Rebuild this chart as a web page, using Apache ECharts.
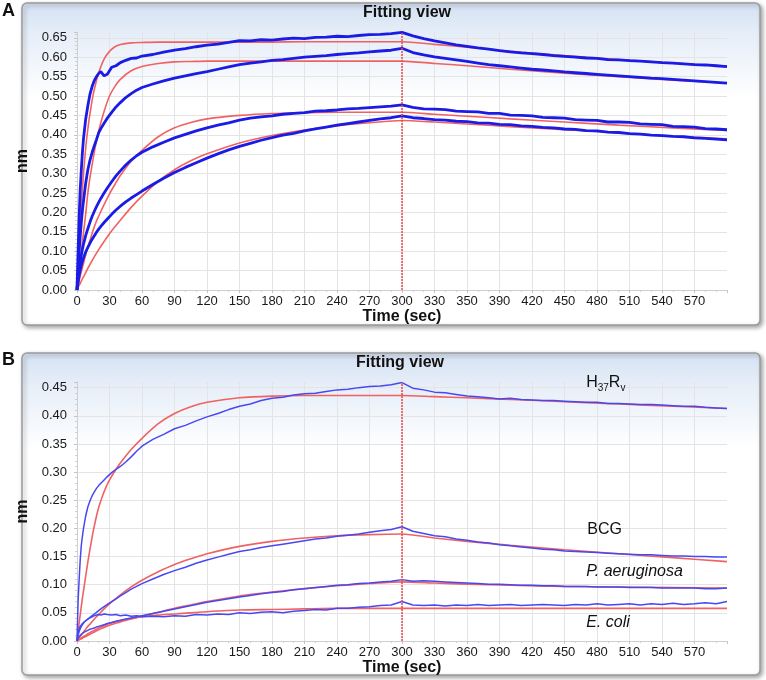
<!DOCTYPE html>
<html><head><meta charset="utf-8">
<script src="https://cdn.jsdelivr.net/npm/echarts@6/dist/echarts.min.js"></script>
<style>html,body{margin:0;padding:0;background:#fff}#c{width:766px;height:680px}</style>
</head><body><div id="c"></div>
<script>
// ---------------- DATA ----------------
const xTickLabelsA = ['0','30','60','90','120','150','180','210','240','270','300','330','350','390','420','450','480','510','540','570'];
const xTickLabelsB = ['0','30','60','90','120','150','180','210','240','270','300','330','360','390','420','450','480','510','540','570'];
const yTickLabelsA = ['0.00','0.05','0.10','0.15','0.20','0.25','0.30','0.35','0.40','0.45','0.50','0.55','0.60','0.65'];
const yTickLabelsB = ['0.00','0.05','0.10','0.15','0.20','0.25','0.30','0.35','0.40','0.45'];

// time points (sec) of measured (blue) traces
const tBlue = [0,1,2,3,4,5,6,8,10,12,14,16,18,20,22,25,28,32,36,40,45,50,55,
  60,70,80,90,100,110,120,130,140,150,160,170,180,190,200,210,220,230,240,250,260,270,280,290,300,
  310,320,330,340,350,360,370,380,390,400,410,420,430,440,450,460,470,480,490,500,510,520,530,540,550,560,570,580,590,600];
// time points (sec) of fitted (red) curves
const tFit = [0,1,2,3,4,5,6,8,10,12,15,18,20,25,30,35,40,50,60,75,90,105,120,150,180,210,240,270,300,330,360,400,450,500,550,600];

// Panel A – measured
const a1Blue = [0,0.10,0.19,0.26,0.31,0.355,0.39,0.44,0.475,0.505,0.525,0.54,0.55,0.558,0.563,0.552,0.556,0.574,0.578,0.586,0.592,0.597,0.598,
  0.603,0.607,0.613,0.618,0.622,0.627,0.631,0.634,0.638,0.643,0.642,0.645,0.644,0.647,0.649,0.648,0.651,0.652,0.654,0.653,0.656,0.658,0.659,0.661,0.664,
  0.655,0.648,0.642,0.637,0.632,0.628,0.624,0.621,0.617,0.614,0.611,0.609,0.607,0.604,0.602,0.600,0.598,0.597,0.594,0.593,0.591,0.590,0.588,0.586,0.585,0.583,0.581,0.580,0.578,0.576];
const a2Blue = [0,0.05,0.10,0.14,0.175,0.205,0.23,0.275,0.31,0.335,0.355,0.372,0.388,0.405,0.416,0.43,0.443,0.458,0.472,0.483,0.496,0.506,0.515,
  0.522,0.531,0.539,0.546,0.552,0.558,0.563,0.569,0.575,0.581,0.585,0.588,0.592,0.594,0.597,0.600,0.602,0.604,0.607,0.609,0.611,0.614,0.616,0.618,0.623,
  0.612,0.606,0.601,0.597,0.593,0.589,0.585,0.581,0.578,0.575,0.572,0.569,0.567,0.565,0.562,0.560,0.558,0.556,0.554,0.552,0.550,0.548,0.546,0.545,0.543,0.541,0.539,0.537,0.535,0.533];
const a3Blue = [0,0.03,0.055,0.075,0.09,0.105,0.118,0.14,0.158,0.175,0.19,0.203,0.215,0.226,0.236,0.25,0.263,0.279,0.294,0.307,0.322,0.335,0.346,
  0.355,0.369,0.381,0.392,0.401,0.41,0.418,0.425,0.431,0.438,0.443,0.446,0.449,0.453,0.455,0.457,0.461,0.462,0.464,0.467,0.468,0.47,0.472,0.474,0.477,
  0.471,0.467,0.466,0.465,0.461,0.46,0.459,0.455,0.455,0.451,0.45,0.449,0.445,0.444,0.443,0.439,0.438,0.437,0.433,0.433,0.432,0.428,0.427,0.426,0.422,0.421,0.42,0.416,0.415,0.413];
const a4Blue = [0,0.02,0.038,0.052,0.064,0.074,0.083,0.098,0.11,0.121,0.131,0.14,0.149,0.157,0.164,0.174,0.183,0.195,0.206,0.216,0.227,0.237,0.246,
  0.255,0.272,0.288,0.303,0.316,0.328,0.34,0.351,0.361,0.37,0.378,0.386,0.393,0.399,0.404,0.41,0.415,0.42,0.425,0.429,0.433,0.437,0.441,0.444,0.449,
  0.444,0.442,0.439,0.438,0.435,0.434,0.431,0.43,0.427,0.426,0.423,0.422,0.419,0.418,0.415,0.414,0.411,0.41,0.407,0.406,0.403,0.402,0.399,0.398,0.396,0.395,0.392,0.391,0.389,0.387];
// Panel A – fits
const a1Fit = [0,0.065,0.125,0.175,0.22,0.26,0.3,0.365,0.415,0.455,0.505,0.54,0.56,0.595,0.615,0.627,0.633,0.637,0.638,0.639,0.639,0.639,0.639,0.639,0.639,0.64,0.64,0.64,0.64,0.633,0.626,0.615,0.604,0.594,0.585,0.577];
const a2Fit = [0,0.025,0.05,0.075,0.1,0.125,0.148,0.195,0.25,0.29,0.34,0.385,0.41,0.46,0.5,0.525,0.543,0.565,0.576,0.584,0.588,0.589,0.59,0.59,0.59,0.59,0.59,0.59,0.59,0.584,0.578,0.569,0.559,0.55,0.541,0.533];
const a3Fit = [0,0.012,0.024,0.036,0.047,0.058,0.069,0.09,0.11,0.128,0.155,0.178,0.19,0.22,0.248,0.272,0.295,0.332,0.36,0.395,0.418,0.432,0.441,0.45,0.455,0.457,0.458,0.458,0.458,0.453,0.448,0.441,0.433,0.425,0.418,0.411];
const a4Fit = [0,0.006,0.012,0.017,0.023,0.029,0.034,0.045,0.056,0.066,0.081,0.095,0.104,0.125,0.145,0.163,0.18,0.213,0.242,0.28,0.31,0.333,0.351,0.379,0.398,0.412,0.423,0.431,0.437,0.433,0.428,0.421,0.413,0.405,0.397,0.39];

// Panel B – measured
const h37Blue = [0,0.07,0.11,0.145,0.17,0.186,0.2,0.222,0.238,0.249,0.258,0.265,0.271,0.276,0.28,0.286,0.292,0.299,0.305,0.31,0.318,0.327,0.337,
  0.346,0.358,0.367,0.377,0.383,0.391,0.398,0.404,0.411,0.417,0.421,0.427,0.431,0.433,0.437,0.439,0.44,0.443,0.446,0.447,0.45,0.452,0.453,0.455,0.459,
  0.449,0.446,0.442,0.441,0.438,0.435,0.434,0.432,0.43,0.431,0.429,0.428,0.427,0.427,0.426,0.425,0.424,0.424,0.422,0.422,0.421,0.42,0.42,0.419,0.418,0.417,0.417,0.415,0.414,0.413];
const bcgBlue = [0,0.015,0.022,0.026,0.029,0.031,0.033,0.036,0.039,0.042,0.045,0.048,0.051,0.054,0.057,0.061,0.065,0.07,0.075,0.08,0.086,0.092,0.097,
  0.102,0.11,0.118,0.125,0.131,0.138,0.144,0.149,0.154,0.159,0.162,0.166,0.169,0.172,0.175,0.178,0.181,0.183,0.186,0.188,0.19,0.193,0.196,0.198,0.203,
  0.195,0.191,0.187,0.185,0.181,0.179,0.176,0.174,0.171,0.169,0.167,0.165,0.163,0.162,0.16,0.159,0.158,0.157,0.156,0.155,0.154,0.153,0.153,0.152,0.151,0.151,0.15,0.15,0.149,0.149];
const paBlue = [0,0.004,0.008,0.01,0.012,0.014,0.015,0.017,0.019,0.021,0.022,0.023,0.025,0.026,0.027,0.029,0.031,0.033,0.035,0.037,0.039,0.041,0.043,
  0.045,0.049,0.053,0.057,0.061,0.065,0.069,0.072,0.075,0.078,0.081,0.084,0.086,0.088,0.091,0.093,0.095,0.097,0.099,0.1,0.102,0.103,0.105,0.106,0.109,
  0.106,0.107,0.106,0.105,0.104,0.103,0.102,0.101,0.101,0.1,0.099,0.099,0.098,0.098,0.097,0.097,0.097,0.096,0.096,0.096,0.095,0.095,0.095,0.094,0.094,0.094,0.094,0.093,0.093,0.094];
const ecBlue = [0,0.01,0.017,0.022,0.026,0.029,0.032,0.036,0.039,0.041,0.043,0.045,0.046,0.047,0.046,0.048,0.047,0.046,0.047,0.045,0.046,0.044,0.045,
  0.043,0.044,0.043,0.045,0.044,0.047,0.046,0.048,0.047,0.05,0.049,0.051,0.052,0.05,0.053,0.054,0.056,0.055,0.058,0.058,0.06,0.061,0.063,0.064,0.07,
  0.064,0.063,0.064,0.062,0.064,0.063,0.065,0.063,0.064,0.065,0.063,0.064,0.065,0.064,0.063,0.065,0.064,0.066,0.064,0.065,0.066,0.064,0.066,0.065,0.067,0.065,0.066,0.068,0.066,0.07];
// Panel B – fits
const h37Fit = [0,0.016,0.032,0.047,0.062,0.076,0.089,0.115,0.14,0.163,0.195,0.222,0.237,0.265,0.286,0.302,0.316,0.34,0.36,0.386,0.404,0.416,0.424,0.432,0.435,0.436,0.436,0.436,0.436,0.434,0.432,0.429,0.425,0.421,0.417,0.413];
const bcgFit = [0,0.003,0.006,0.008,0.011,0.013,0.016,0.021,0.026,0.03,0.037,0.043,0.047,0.057,0.066,0.074,0.082,0.096,0.108,0.123,0.136,0.146,0.155,0.168,0.177,0.183,0.187,0.189,0.19,0.183,0.177,0.17,0.162,0.155,0.148,0.141];
const paFit = [0,0.001,0.002,0.003,0.004,0.005,0.006,0.008,0.01,0.012,0.015,0.018,0.02,0.024,0.028,0.031,0.034,0.039,0.044,0.051,0.058,0.064,0.07,0.08,0.087,0.093,0.098,0.102,0.105,0.103,0.101,0.099,0.097,0.096,0.095,0.094];
const ecFit = [0,0.001,0.003,0.004,0.005,0.007,0.008,0.01,0.013,0.015,0.018,0.021,0.023,0.027,0.031,0.034,0.036,0.04,0.043,0.046,0.048,0.05,0.052,0.055,0.056,0.057,0.058,0.058,0.058,0.058,0.058,0.058,0.058,0.058,0.058,0.058];

// curve annotations in panel B (anchor in data units: seconds, nm)
const bLabels = [
  {name: 'H37Rv', t: 470, v: 0.455, rich: true},
  {name: 'BCG', t: 471, v: 0.197},
  {name: 'P. aeruginosa', t: 470, v: 0.123, italic: true},
  {name: 'E. coli', t: 470, v: 0.032, italic: true}
];
const injectionEnd = 300;

// ---------------- CHART ----------------
const FONT = "'Liberation Sans', Arial, Helvetica, sans-serif";
const chart = echarts.init(document.getElementById('c'), null, {renderer: 'canvas'});

function xAxis(gi, labels, nameGap) {
  return {
    type: 'value', gridIndex: gi, min: 0, max: 600, interval: 30,
    name: 'Time (sec)', nameLocation: 'middle', nameGap: nameGap,
    nameTextStyle: {fontFamily: FONT, fontWeight: 'bold', fontSize: 16, color: '#111'},
    axisLine: {show: true, lineStyle: {color: '#cfcfcf', width: 1}},
    axisTick: {show: true, length: 3, lineStyle: {color: '#c4c4c4'}},
    minorTick: {show: true, splitNumber: 3, length: 2, lineStyle: {color: '#d0d0d0'}},
    splitLine: {show: true, showMaxLine: false, lineStyle: {color: '#e4e4e4', width: 1}},
    axisLabel: {
      fontFamily: FONT, fontSize: 13, color: '#1a1a1a', margin: 5, showMaxLabel: false,
      formatter: v => { const i = Math.round(v / 30); return (Math.abs(v - i * 30) < 1e-6 && i < labels.length) ? labels[i] : ''; }
    }
  };
}
function yAxis(gi, max, labels) {
  return {
    type: 'value', gridIndex: gi, min: 0, max: max, interval: 0.05,
    name: 'nm', nameLocation: 'middle', nameGap: 39,
    nameTextStyle: {fontFamily: FONT, fontWeight: 'bold', fontSize: 16, color: '#111'},
    axisLine: {show: true, lineStyle: {color: '#cfcfcf', width: 1}},
    axisTick: {show: true, length: 3, lineStyle: {color: '#c4c4c4'}},
    minorTick: {show: true, splitNumber: 5, length: 2, lineStyle: {color: '#d0d0d0'}},
    splitLine: {show: true, showMaxLine: false, lineStyle: {color: '#e4e4e4', width: 1}},
    axisLabel: {
      fontFamily: FONT, fontSize: 13, color: '#1a1a1a', margin: 10, showMaxLabel: false,
      formatter: v => { const i = Math.round(v / 0.05); return (Math.abs(v - i * 0.05) < 1e-6 && i < labels.length) ? labels[i] : ''; }
    }
  };
}
function line(gi, times, vals, color, width, z, smooth) {
  return {
    type: 'line', xAxisIndex: gi, yAxisIndex: gi, z: z,
    data: times.map((t, i) => [t, vals[i]]),
    symbol: 'none', showSymbol: false, smooth: smooth || false,
    lineStyle: {color: color, width: width}, silent: true
  };
}
function vline() {
  return {
    silent: true, symbol: ['none', 'none'], label: {show: false},
    lineStyle: {color: '#e8494a', type: [2, 1], width: 1.5},
    data: [{xAxis: injectionEnd}], animation: false
  };
}

const RED = '#f06262', BLUE_A = '#1b1be6', BLUE_B = '#4848f2';
const series = [];
// Panel A
[a1Fit, a2Fit, a3Fit, a4Fit].forEach((f, k) => {
  const s = line(0, tFit, f, RED, 1.6, 2, 0.25);
  if (k === 0) s.markLine = vline();
  series.push(s);
});
[a1Blue, a2Blue, a3Blue, a4Blue].forEach(b => series.push(line(0, tBlue, b, BLUE_A, 2.8, 3)));
// Panel B
[h37Fit, bcgFit, paFit, ecFit].forEach((f, k) => {
  const s = line(1, tFit, f, RED, 1.6, 2, 0.25);
  if (k === 0) s.markLine = vline();
  series.push(s);
});
[h37Blue, bcgBlue, paBlue, ecBlue].forEach(b => series.push(line(1, tBlue, b, BLUE_B, 1.5, 3)));

// annotation series (text only)
series.push({
  type: 'scatter', xAxisIndex: 1, yAxisIndex: 1, symbolSize: 0, silent: true, z: 5,
  itemStyle: {opacity: 1},
  data: bLabels.map(l => ({
    value: [l.t, l.v],
    label: {
      show: true, position: [0, 0], align: 'left', verticalAlign: 'middle', opacity: 1,
      formatter: l.rich ? '{n|H}{s|37}{n|R}{s|v}' : l.name,
      fontFamily: FONT, fontSize: 16, color: '#111', fontStyle: l.italic ? 'italic' : 'normal',
      rich: {
        n: {fontFamily: FONT, fontSize: 16, color: '#111', lineHeight: 16, padding: [0, 0, 5, 0]},
        s: {fontFamily: FONT, fontSize: 10, color: '#111', lineHeight: 10, verticalAlign: 'bottom'}
      }
    }
  }))
});

function box(y, h) {
  return {
    type: 'rect', z: -10, silent: true,
    shape: {x: 22, y: y, width: 738, height: h, r: 5},
    style: {
      fill: {type: 'linear', x: 0, y: 0, x2: 0, y2: 1, colorStops: [
        {offset: 0, color: '#d4e2f3'}, {offset: 0.1, color: '#e6eef8'}, {offset: 0.3, color: '#ffffff'}, {offset: 1, color: '#ffffff'}]},
      stroke: '#9b9b9b', lineWidth: 1.5,
      shadowBlur: 4, shadowOffsetX: 2, shadowOffsetY: 2, shadowColor: 'rgba(0,0,0,0.35)'
    }
  };
}
function txt(x, y, text, font, align) {
  return {type: 'text', x: x, y: y, z: 10, silent: true,
    style: {text: text, font: font, fill: '#111', align: align || 'center', verticalAlign: 'middle'}};
}

chart.setOption({
  animation: false,
  backgroundColor: '#ffffff',
  grid: [
    {left: 77, right: 39, top: 32, bottom: 390, containLabel: false, outerBoundsMode: 'none'},
    {left: 77, right: 39, top: 382, bottom: 39, containLabel: false, outerBoundsMode: 'none'}
  ],
  xAxis: [xAxis(0, xTickLabelsA, 16), xAxis(1, xTickLabelsB, 18)],
  yAxis: [yAxis(0, 0.665, yTickLabelsA), yAxis(1, 0.46, yTickLabelsB)],
  graphic: [
    box(3, 322), box(353, 322),
    txt(407, 13, 'Fitting view', 'bold 16px ' + FONT),
    txt(400, 363, 'Fitting view', 'bold 16px ' + FONT),
    txt(2, 11, 'A', 'bold 18px ' + FONT, 'left'),
    txt(2, 360, 'B', 'bold 18px ' + FONT, 'left')
  ],
  series: series
});
</script>
</body></html>
